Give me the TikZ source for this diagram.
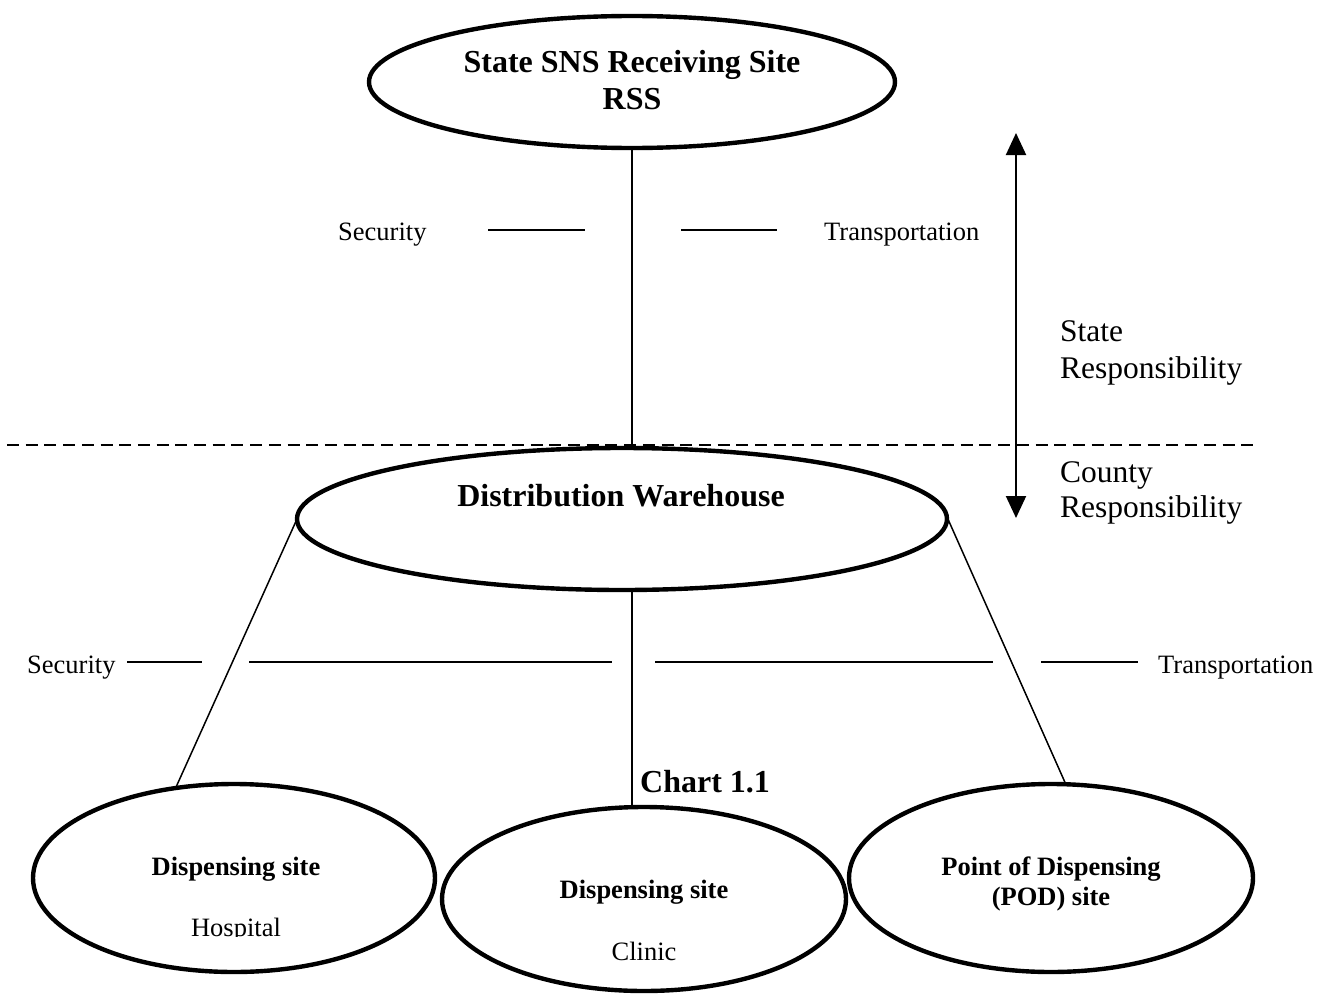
\documentclass[tikz,border=0pt]{standalone}
\usepackage{fontspec}
\setmainfont{Liberation Serif}
\usetikzlibrary{shapes.geometric,arrows.meta,calc}
\begin{document}
\begin{tikzpicture}[x=1pt,y=-1pt,
  site/.style={ellipse,draw,line width=4.4pt,inner sep=0pt,outer sep=0pt},
  bigbold/.style={font=\fontsize{32}{37}\selectfont\bfseries,inner sep=0pt,anchor=base},
  smallbold/.style={font=\fontsize{26.5}{30}\selectfont\bfseries,inner sep=0pt,anchor=base},
  smallplain/.style={font=\fontsize{26.5}{30}\selectfont,inner sep=0pt,anchor=base},
  sidelabel/.style={font=\fontsize{26.5}{30}\selectfont,inner sep=0pt,anchor=base west},
  resp/.style={font=\fontsize{31.5}{36}\selectfont,inner sep=0pt,anchor=base west},
  link/.style={line width=1.5pt},
  tick/.style={line width=2pt},
  tip/.tip={Triangle[length=22pt,width=20pt]},
]
\useasboundingbox (0,0) rectangle (1325,998);

% receiving site
\node[site,minimum width=526pt,minimum height=132pt] (rss) at (632,82) {};
\node[bigbold] (rsstitle) at (632,73) {State SNS Receiving Site};
\node[bigbold] (rssabbr) at (632,110) {RSS};

% distribution warehouse
\node[site,minimum width=650pt,minimum height=142pt] (dw) at (622,519) {};
\node[bigbold] (dwtitle) at (621,506) {Distribution Warehouse};

% dispensing sites
\node[site,minimum width=402pt,minimum height=188pt] (hosp) at (234,878) {};
\node[smallbold] (hosptitle) at (236,875) {Dispensing site};
\begin{scope}
  \clip (140,895) rectangle (330,936);
  \node[smallplain] (hospkind) at (236,936) {Hospital};
\end{scope}

\node[site,minimum width=404pt,minimum height=184pt] (clinic) at (644,899) {};
\node[smallbold] (clinictitle) at (644,898) {Dispensing site};
\node[smallplain] (clinickind) at (644,960) {Clinic};

\node[site,minimum width=404pt,minimum height=188pt] (pod) at (1051,878) {};
\node[smallbold] (podtitle1) at (1051,875) {Point of Dispensing};
\node[smallbold] (podtitle2) at (1051,905) {(POD) site};

\node[bigbold,anchor=base west] (chart) at (640,792) {Chart 1.1};

% side labels
\node[sidelabel] (secA) at (338,240) {Security};
\node[sidelabel] (trA) at (824,240) {Transportation};
\node[sidelabel] (secB) at (27,673) {Security};
\node[sidelabel] (trB) at (1158,673) {Transportation};

\node[resp] (st1) at (1060,341) {State};
\node[resp] (st2) at (1060,378) {Responsibility};
\node[resp] (ct1) at (1060,482) {County};
\node[resp] (ct2) at (1060,517) {Responsibility};

% connectors
\draw[link] (rss.south) -- (rss.south |- dw.north);
\draw[link] (rss.south |- dw.south) -- (rss.south |- clinic.north);
\draw[link] (dw.west) -- (hosp.123);
\draw[link] (dw.2) -- (pod.81);

% security / transportation strokes
\draw[tick] (488,230) -- (585,230);
\draw[tick] (681,230) -- (777,230);
\draw[tick] (127,662) -- (202,662);
\draw[tick] (249,662) -- (612,662);
\draw[tick] (655,662) -- (993,662);
\draw[tick] (1041,662) -- (1138,662);

% responsibility arrow
\coordinate (arrtop) at (1016,133);
\coordinate (arrbot) at (1016,518);
\draw[line width=2pt,tip-tip] (arrtop) -- (arrbot);

% state / county boundary
\coordinate (bleft) at (7,445);
\coordinate (bright) at (1257,445);
\draw[line width=1.8pt,dash pattern=on 12pt off 6.7pt] (bleft) -- (bright);
\end{tikzpicture}
\end{document}
